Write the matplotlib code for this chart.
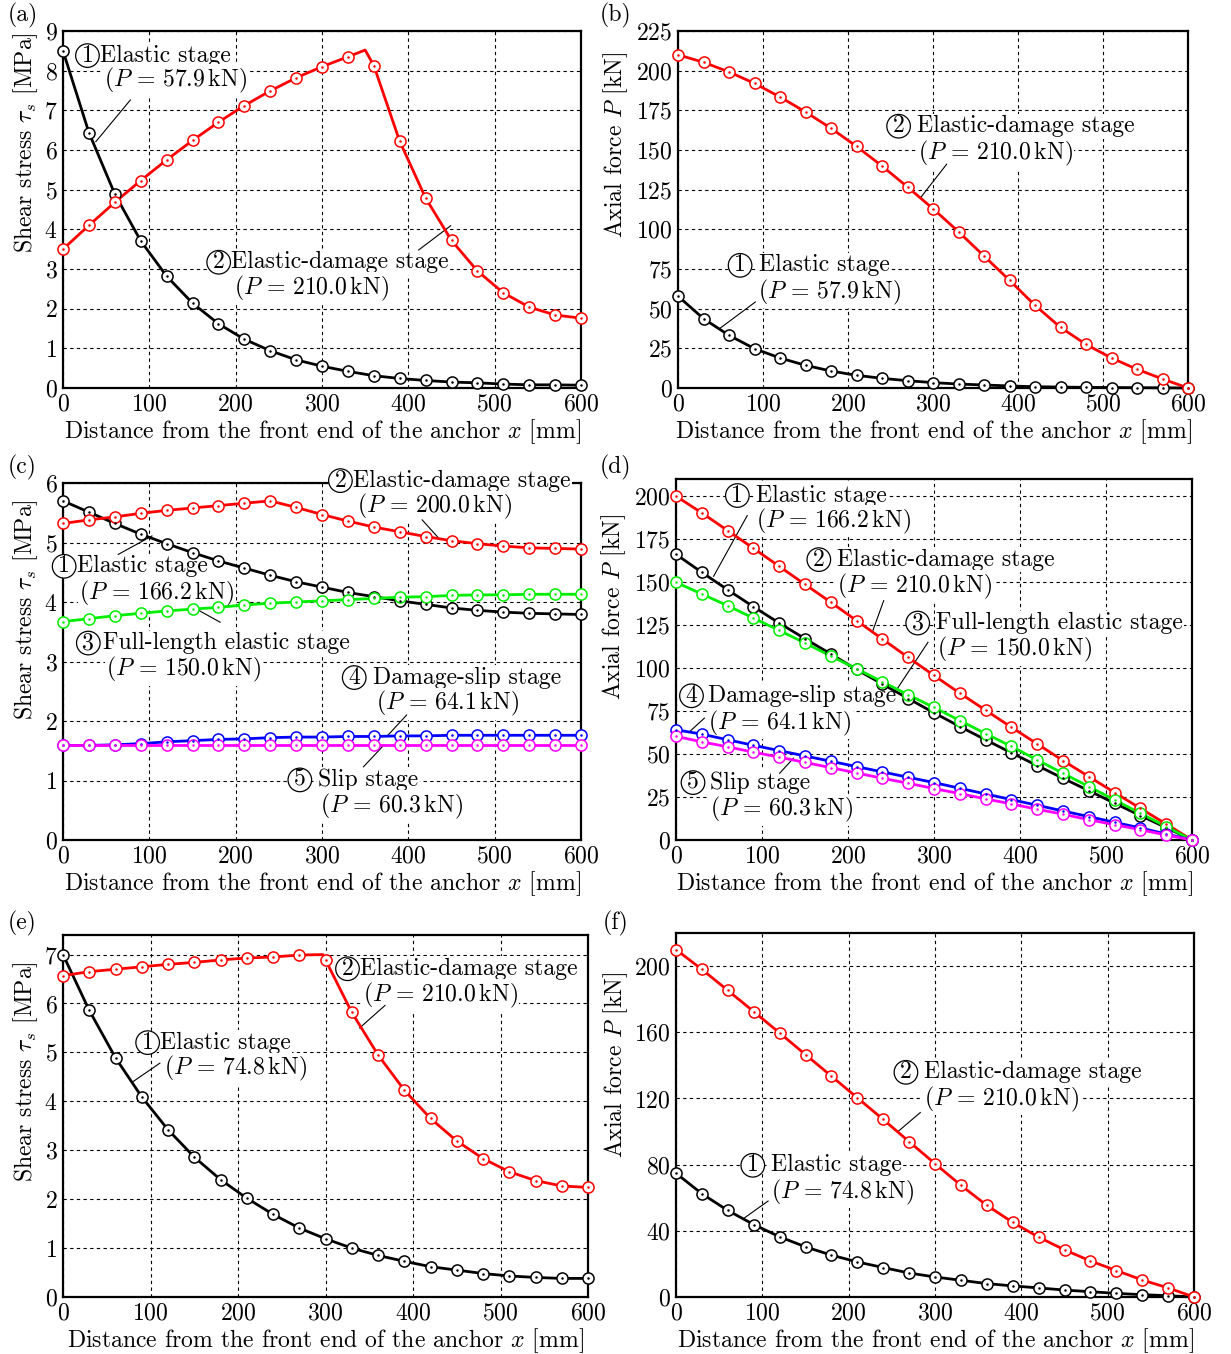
import matplotlib
matplotlib.use("Agg")
import matplotlib.pyplot as plt
from matplotlib.transforms import offset_copy
import numpy as np

plt.rcParams['font.family'] = ['cmr10', 'DejaVu Serif']
plt.rcParams['mathtext.fontset'] = 'cm'
plt.rcParams['axes.formatter.use_mathtext'] = True
plt.rcParams['axes.unicode_minus'] = False

# distance along the anchor [mm], one marker every 30 mm
X = np.arange(0, 601, 30)

# (a) shear stress, P = 57.9 kN / 210.0 kN
a_black = [8.50, 6.44, 4.89, 3.71, 2.82, 2.14, 1.62, 1.23, 0.94, 0.71, 0.55,
           0.42, 0.31, 0.24, 0.19, 0.15, 0.13, 0.10, 0.08, 0.08, 0.07]
a_red = [3.50, 4.10, 4.68, 5.23, 5.75, 6.24, 6.70, 7.12, 7.49, 7.82, 8.10,
         8.35, 8.13, 6.22, 4.79, 3.72, 2.95, 2.40, 2.04, 1.84, 1.76]
a_red_peak = (350, 8.52)

# (b) axial force
b_black = [57.9, 43.7, 33.2, 24.8, 18.9, 14.3, 10.7, 8.0, 6.1, 4.6, 3.4,
           2.5, 1.9, 1.3, 0.8, 0.6, 0.4, 0.3, 0.2, 0.1, 0.0]
b_red = [210.0, 205.3, 199.2, 192.0, 183.4, 174.0, 163.7, 152.3, 139.9, 126.7, 113.0,
         98.5, 83.2, 67.9, 52.1, 38.2, 27.5, 18.9, 11.8, 5.7, 0.0]

# (c) shear stress, five stages
c_black = [5.70, 5.51, 5.32, 5.14, 4.98, 4.83, 4.69, 4.57, 4.45, 4.34, 4.25,
           4.16, 4.09, 4.02, 3.96, 3.90, 3.86, 3.83, 3.81, 3.80, 3.79]
c_red = [5.32, 5.38, 5.43, 5.49, 5.54, 5.58, 5.62, 5.66, 5.70, 5.59, 5.47,
         5.36, 5.26, 5.18, 5.10, 5.03, 4.98, 4.94, 4.91, 4.90, 4.89]
c_green = [3.67, 3.72, 3.77, 3.81, 3.85, 3.88, 3.91, 3.95, 3.98, 4.00, 4.02,
           4.04, 4.06, 4.08, 4.09, 4.11, 4.12, 4.12, 4.13, 4.13, 4.13]
c_blue = [1.59, 1.59, 1.60, 1.62, 1.65, 1.67, 1.69, 1.70, 1.72, 1.73, 1.73,
          1.74, 1.74, 1.75, 1.75, 1.76, 1.76, 1.76, 1.76, 1.76, 1.76]
c_magenta = [1.60] * 21

# (d) axial force, five stages
d_black = [166.2, 155.7, 145.6, 135.7, 126.2, 117.1, 108.2, 99.2, 90.7, 82.3, 74.0,
           66.0, 58.3, 50.7, 43.3, 35.9, 28.7, 21.4, 14.2, 7.2, 0.0]
d_red = [200.0, 190.3, 180.0, 169.7, 159.2, 148.7, 138.3, 127.6, 116.9, 106.2, 95.7,
         85.4, 75.5, 65.6, 55.9, 46.2, 36.9, 27.6, 18.4, 9.3, 0.0]
d_green = [149.9, 143.1, 136.3, 129.1, 121.9, 114.6, 107.0, 99.6, 92.0, 84.5, 77.1,
           69.5, 61.9, 54.4, 46.6, 38.8, 31.1, 23.3, 15.5, 7.8, 0.0]
d_blue = [64.1, 61.6, 58.3, 55.1, 52.0, 48.9, 45.8, 42.7, 39.6, 36.5, 33.4,
          30.1, 26.8, 23.5, 20.2, 16.9, 13.6, 10.3, 7.0, 3.5, 0.0]
d_magenta = [60.3, 57.1, 54.2, 51.1, 48.2, 45.1, 42.1, 39.0, 35.9, 33.0, 29.9,
             27.0, 23.9, 21.0, 17.9, 15.0, 11.8, 8.9, 6.0, 2.9, 0.0]

# (e) shear stress, P = 74.8 kN / 210.0 kN
e_black = [7.00, 5.86, 4.89, 4.09, 3.42, 2.86, 2.40, 2.02, 1.69, 1.41, 1.19,
           1.00, 0.85, 0.73, 0.62, 0.55, 0.48, 0.43, 0.40, 0.38, 0.38]
e_red = [6.57, 6.65, 6.70, 6.75, 6.80, 6.84, 6.89, 6.93, 6.95, 6.99, 6.89,
         5.82, 4.95, 4.23, 3.65, 3.19, 2.83, 2.56, 2.38, 2.27, 2.24]
e_red_peak = (297, 7.00)

# (f) axial force
f_black = [74.8, 62.4, 52.3, 43.8, 36.4, 30.3, 25.3, 21.2, 17.8, 14.5, 12.1,
           10.1, 8.1, 6.7, 5.5, 4.2, 3.2, 2.2, 1.4, 0.8, 0.0]
f_red = [210.0, 198.0, 185.3, 172.5, 159.6, 146.5, 133.5, 120.4, 107.3, 93.9, 80.6,
         67.5, 55.4, 45.1, 36.2, 28.5, 21.8, 16.0, 10.3, 5.5, 0.0]

XLABEL = r"Distance from the front end of the anchor $x$ [mm]"
TAU_LABEL = r"Shear stress $\tau_s$ [MPa]"
P_LABEL = r"Axial force $P$ [kN]"

W, H = 1231, 1354
FS = 17.1

fig = plt.figure(figsize=(W / 100, H / 100), dpi=100)


def make_axes(left, top, right, bottom):
    return fig.add_axes([left / W, 1 - bottom / H, (right - left) / W, (bottom - top) / H])


def style(ax, ylim, yticks, ylabel, ylab_xy, label, lab_xy):
    ax.set_xlim(0, 600)
    ax.set_ylim(*ylim)
    ax.set_xticks(range(0, 601, 100))
    ax.set_yticks(yticks)
    ax.grid(True, color='black', linestyle=(0, (3, 3)), linewidth=0.8)
    ax.set_axisbelow(True)
    ax.tick_params(length=0, labelsize=FS, pad=4)
    for s in ax.spines.values():
        s.set_linewidth(1.6)
    ax.set_xlabel(XLABEL, fontsize=FS, labelpad=1)
    ax.set_ylabel(ylabel, fontsize=FS)
    ax.yaxis.set_label_coords(*ylab_xy)
    fig.text(lab_xy[0] / W, 1 - lab_xy[1] / H, label, fontsize=FS, ha='left', va='center')


def curve(ax, y, color, peak=None):
    xs, ys = list(X), list(y)
    if peak is not None:
        i = int(np.searchsorted(xs, peak[0]))
        xs.insert(i, peak[0])
        ys.insert(i, peak[1])
    ax.plot(xs, ys, color=color, lw=2.0, zorder=3, clip_on=False)
    ax.plot(X, y, 'o', ms=8, mfc='white', mec=color, mew=1.1, zorder=4, clip_on=False)
    ax.plot(X, y, '.', ms=1.6, color=color, zorder=5, clip_on=False)


def pval(v):
    return r"$(P\,{=}\,%s\,\mathrm{kN})$" % v


def note(ax, x1, y1, num, words, gap, x2, y2, pv, seg):
    # white box hides grid and frame, data lines stay on top
    box = dict(facecolor='white', edgecolor='none', pad=1.0)
    circ = dict(boxstyle='circle,pad=0.03', facecolor='white', edgecolor='black', lw=0.9)
    ax.text(x1, y1, str(num), fontsize=FS, ha='center', va='center', bbox=circ, zorder=2.75,
            clip_on=False, transform=offset_copy(ax.transData, fig, x=11.5, y=0, units='dots'))
    ax.text(x1, y1, words, fontsize=FS, ha='left', va='center', bbox=box, zorder=2.7,
            clip_on=False, transform=offset_copy(ax.transData, fig, x=23 + gap, y=0, units='dots'))
    ax.text(x2, y2, pv, fontsize=FS, ha='left', va='center', bbox=box, zorder=2.7, clip_on=False)
    for s in seg:
        ax.plot([s[0], s[2]], [s[1], s[3]], color='black', lw=0.8, zorder=2.8, clip_on=False)


# (a)
ax = make_axes(63, 31, 581, 388)
curve(ax, a_black, 'black')
curve(ax, a_red, 'red', a_red_peak)
note(ax, 15, 8.38, 1, "Elastic stage", 1, 47, 7.76, pval("57.9"),
     [(78, 7.26, 38, 6.21)])
note(ax, 167, 3.17, 2, "Elastic-damage stage", 1, 198, 2.52, pval("210.0"),
     [(412, 3.48, 449, 4.09)])
style(ax, (0, 9), range(0, 10), TAU_LABEL, (-0.044, 0.686), "(a)", (8, 15))

# (b)
ax = make_axes(678, 31, 1188, 388)
curve(ax, b_black, 'black')
curve(ax, b_red, 'red')
note(ax, 246, 165, 2, "Elastic-damage stage", 7, 282, 147.7, pval("210.0"),
     [(316, 141, 286, 120.4)])
note(ax, 59.5, 77.3, 1, "Elastic stage", 7, 94, 60.5, pval("57.9"),
     [(91, 54.2, 48.8, 37.4)])
style(ax, (0, 225), range(0, 226, 25), P_LABEL, (-0.094, 0.681), "(b)", (600, 15))

# (c)
ax = make_axes(63, 483, 581, 840)
curve(ax, c_black, 'black')
curve(ax, c_red, 'red')
curve(ax, c_green, '#00ee00')
curve(ax, c_blue, 'blue')
curve(ax, c_magenta, 'magenta')
note(ax, 308, 6.04, 2, "Elastic-damage stage", 1, 340, 5.60, pval("200.0"),
     [(416, 5.38, 436, 5.06)])
note(ax, -12, 4.60, 1, "Elastic stage", 1, 19, 4.14, pval("166.2"),
     [(64, 4.80, 103, 5.11)])
note(ax, 16, 3.31, 3, "Full-length elastic stage", 3, 50, 2.86, pval("150.0"),
     [(182, 3.66, 151, 3.91)])
note(ax, 324, 2.73, 4, "Damage-slip stage", 7, 363, 2.29, pval("64.1"),
     [(398, 2.10, 375, 1.74)])
note(ax, 261, 1.01, 5, "Slip stage", 7, 298, 0.57, pval("60.3"),
     [(348, 1.23, 372, 1.60)])
style(ax, (0, 6), range(0, 7), TAU_LABEL, (-0.044, 0.644), "(c)", (8, 467))

# (d)
ax = make_axes(676, 479, 1192, 840)
curve(ax, d_black, 'black')
curve(ax, d_red, 'red')
curve(ax, d_green, '#00ee00')
curve(ax, d_blue, 'blue')
curve(ax, d_magenta, 'magenta')
note(ax, 58, 200.4, 1, "Elastic stage", 7, 93, 185.4, pval("166.2"),
     [(82.8, 188.7, 43.7, 153.4)])
note(ax, 152.7, 163.1, 2, "Elastic-damage stage", 7, 187, 147.6, pval("210.0"),
     [(241.5, 139.2, 228.6, 121.4)])
note(ax, 267.7, 126.2, 3, "Full-length elastic stage", 7, 303, 110.7, pval("150.0"),
     [(293, 115, 257, 87.8)])
note(ax, 4.6, 83.9, 4, "Damage-slip stage", 5, 37.7, 68, pval("64.1"),
     [(33, 70.9, 14.7, 62.5)])
note(ax, 6.4, 33.4, 5, "Slip stage", 5, 40, 17.5, pval("60.3"),
     [(120.5, 38.8, 136.6, 47.6)])
style(ax, (0, 210), range(0, 201, 25), P_LABEL, (-0.093, 0.645), "(d)", (600, 467))

# (e)
ax = make_axes(63, 935, 588, 1297)
curve(ax, e_black, 'black')
curve(ax, e_red, 'red', e_red_peak)
note(ax, 312, 6.71, 2, "Elastic-damage stage", 1, 343, 6.17, pval("210.0"),
     [(368, 5.96, 339, 5.50)])
note(ax, 83.6, 5.20, 1, "Elastic stage", 1, 115, 4.67, pval("74.8"),
     [(110.7, 4.78, 79, 4.39)])
style(ax, (0, 7.4), range(0, 8), TAU_LABEL, (-0.044, 0.622), "(e)", (8, 923))

# (f)
ax = make_axes(676, 933, 1194, 1297)
curve(ax, f_black, 'black')
curve(ax, f_red, 'red')
note(ax, 253, 135.8, 2, "Elastic-damage stage", 7, 287.7, 119.6, pval("210.0"),
     [(283, 111.5, 258, 100.4)])
note(ax, 75.6, 79.6, 1, "Elastic stage", 7, 110, 63.4, pval("74.8"),
     [(106.7, 58, 77.9, 47.3)])
style(ax, (0, 220), range(0, 201, 40), P_LABEL, (-0.089, 0.637), "(f)", (603, 923))

fig.savefig("out.png", dpi=100)
